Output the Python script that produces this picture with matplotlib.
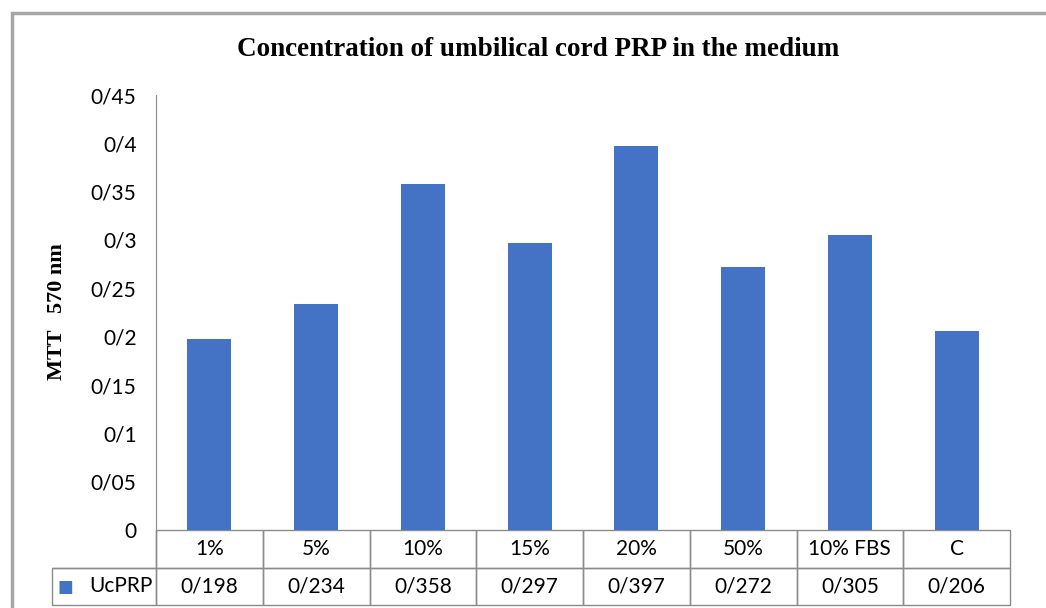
import matplotlib
matplotlib.use("Agg")
import matplotlib.pyplot as plt
from matplotlib.patches import Rectangle

# data
categories = ["1%", "5%", "10%", "15%", "20%", "50%", "10% FBS", "C"]
values = [0.198, 0.234, 0.358, 0.297, 0.397, 0.272, 0.305, 0.206]
value_labels = ["0/198", "0/234", "0/358", "0/297", "0/397", "0/272", "0/305", "0/206"]
yticks = [0, 0.05, 0.1, 0.15, 0.2, 0.25, 0.3, 0.35, 0.4, 0.45]
ytick_labels = ["0", "0/05", "0/1", "0/15", "0/2", "0/25", "0/3", "0/35", "0/4", "0/45"]
series_name = "UcPRP"

BLUE = "#4472C4"
GRID = "#8c8c8c"
W, H = 1046, 608

def main():
    fig = plt.figure(figsize=(W / 100, H / 100), dpi=100)
    fig.patch.set_facecolor("white")

    # outer frame of the chart area (cropped on right/bottom)
    fig.patches.append(Rectangle((12 / W, -0.05), 1.1, (H - 13) / H + 0.05,
                                 transform=fig.transFigure, fill=False,
                                 edgecolor="#a6a6a6", linewidth=2.5))

    left, right, top, bottom = 156, 1010, 95, 530
    ax = fig.add_axes([left / W, 1 - bottom / H, (right - left) / W, (bottom - top) / H])

    x = list(range(len(categories)))
    ax.bar(x, values, width=0.41, color=BLUE)
    ax.set_xlim(-0.5, len(categories) - 0.5)
    ax.set_ylim(0, 0.45)

    ax.set_yticks(yticks)
    ax.set_yticklabels(ytick_labels, fontfamily="Lato", fontsize=15)
    ax.tick_params(axis="y", length=0, pad=14)
    ax.set_xticks([])
    for s in ["top", "right", "bottom"]:
        ax.spines[s].set_visible(False)
    ax.spines["left"].set_color(GRID)

    # data table under the axis
    w_head = (left - 52) / (right - left)
    h_tab = (605 - bottom) / (bottom - top)
    cell_text = [[""] + categories, [""] + value_labels]
    n = len(categories)
    tab = ax.table(cellText=cell_text, cellLoc="center",
                   colWidths=[w_head] + [1.0 / n] * n,
                   bbox=[-w_head, -h_tab, 1 + w_head, h_tab])
    tab.auto_set_font_size(False)
    for (r, c), cell in tab.get_celld().items():
        cell.set_edgecolor(GRID)
        cell.set_facecolor("none")
        cell.set_linewidth(1.0)
        cell.get_text().set_fontfamily("Lato")
        cell.get_text().set_fontsize(15)
        if r == 0 and c == 0:
            cell.visible_edges = "BR"

    # legend key in the row header cell
    ax.text(-w_head + 0.007, -h_tab * 0.76, "\u25A0", color=BLUE, fontsize=12,
            transform=ax.transAxes, va="center", ha="left", family="DejaVu Sans")
    ax.text(-0.004, -h_tab * 0.75, series_name, fontfamily="Lato", fontsize=15,
            transform=ax.transAxes, va="center", ha="right")

    fig.text(538 / W, 1 - 50 / H, "Concentration of umbilical cord PRP in the medium",
             ha="center", va="center", fontsize=19.5, fontweight="bold",
             fontfamily="Liberation Serif")
    fig.text(57 / W, 1 - 312 / H, "MTT   570 nm", rotation=90, ha="center", va="center",
             fontsize=16, fontweight="bold", fontfamily="Liberation Serif")

    fig.savefig("out.png", dpi=100)

if __name__ == "__main__":
    main()
